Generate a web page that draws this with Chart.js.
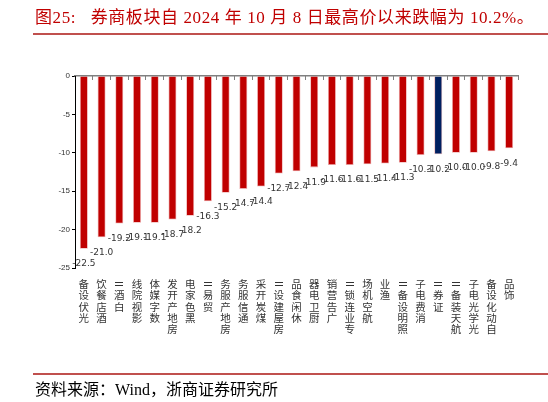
<!DOCTYPE html>
<html>
<head>
<meta charset="utf-8">
<script src="https://cdn.jsdelivr.net/npm/chart.js@4/dist/chart.umd.min.js"></script>
<style>
  body { margin: 0; background: #fff; }
  #page { position: relative; width: 548px; height: 402px; overflow: hidden; }
  #title {
    position: absolute; left: 35px; top: 3px; white-space: pre;
    font-family: "Liberation Serif", "Noto Sans CJK SC", serif;
    font-size: 17px; letter-spacing: 0.6px; color: #C00000;
  }
  .rule { position: absolute; left: 33px; right: 0; height: 1.5px; background: #C0504D; }
  #source {
    position: absolute; left: 35px; top: 376px; white-space: pre;
    font-family: "Liberation Serif", "Noto Sans CJK SC", serif;
    font-size: 16px; color: #000;
  }
  #wrap { position: absolute; left: 0; top: 0; width: 548px; height: 402px; }
</style>
</head>
<body>
<div id="page">
  <div id="wrap"><canvas id="grafico"></canvas></div>
  <div id="title">图25:   券商板块自 2024 年 10 月 8 日最高价以来跌幅为 10.2%。</div>
  <div class="rule" style="top:33px"></div>
  <div class="rule" style="top:373px"></div>
  <div id="source">资料来源：Wind，浙商证券研究所</div>
</div>
<script>
// dados
const categorias = ['光伏设备', '酒店餐饮', '白酒Ⅱ', '影视院线', '数字媒体', '房地产开发', '黑色家电',
  '贸易Ⅱ', '房地产服务', '通信服务', '煤炭开采', '房屋建设Ⅱ', '休闲食品', '厨卫电器', '广告营销',
  '专业连锁Ⅱ', '航空机场', '渔业', '照明设备Ⅱ', '消费电子', '证券Ⅱ', '航天装备Ⅱ', '光学光电子',
  '自动化设备', '饰品'];
const quedas = [-22.5, -21.0, -19.2, -19.1, -19.1, -18.7, -18.2, -16.3, -15.2, -14.7, -14.4, -12.7,
  -12.4, -11.9, -11.6, -11.6, -11.5, -11.4, -11.3, -10.3, -10.2, -10.0, -10.0, -9.8, -9.4];
const destaque = '证券Ⅱ';
const eixoY = { min: -25, max: 0, passo: 5 };

const cores = categorias.map(c => c === destaque ? '#002060' : '#C00000');

// rótulos de valor abaixo de cada barra
const rotulosValor = {
  id: 'rotulosValor',
  afterDatasetsDraw(chart) {
    const ctx = chart.ctx;
    const meta = chart.getDatasetMeta(0);
    ctx.save();
    ctx.font = '9px "DejaVu Sans"';
    ctx.fillStyle = '#333';
    ctx.textAlign = 'center';
    ctx.textBaseline = 'middle';
    meta.data.forEach((bar, i) => {
      ctx.fillText(quedas[i].toFixed(1), bar.x, bar.y + 15);
    });
    ctx.restore();
  }
};

// nomes empilhados, lidos de baixo para cima (o "Ⅱ" fica deitado)
const rotulosCategoria = {
  id: 'rotulosCategoria',
  afterDraw(chart) {
    const ctx = chart.ctx;
    const x = chart.scales.x;
    const topo = chart.chartArea.bottom + 16;
    const passo = 11.3;
    ctx.save();
    ctx.font = '10.5px "Noto Sans CJK SC"';
    ctx.fillStyle = '#333';
    ctx.textAlign = 'center';
    ctx.textBaseline = 'middle';
    categorias.forEach((nome, i) => {
      const px = x.getPixelForValue(i);
      Array.from(nome).reverse().forEach((ch, k) => {
        const py = topo + k * passo;
        if (ch === 'Ⅱ') {
          ctx.save();
          ctx.translate(px, py);
          ctx.rotate(-Math.PI / 2);
          ctx.fillText(ch, 0, 0);
          ctx.restore();
        } else {
          ctx.fillText(ch, px, py);
        }
      });
    });
    ctx.restore();
  }
};

const ctxGrafico = document.getElementById('grafico').getContext('2d');
new Chart(ctxGrafico, {
  type: 'bar',
  data: {
    labels: categorias,
    datasets: [{
      data: quedas,
      backgroundColor: cores,
      borderColor: 'rgba(235,160,160,0.9)',
      borderWidth: 0.8,
      barPercentage: 0.45,
      categoryPercentage: 1
    }]
  },
  options: {
    responsive: true,
    maintainAspectRatio: false,
    animation: false,
    layout: { padding: { top: 76, left: 0, right: 30, bottom: 134 } },
    plugins: { legend: { display: false }, tooltip: { enabled: false } },
    scales: {
      x: {
        position: 'top',
        ticks: { display: false },
        grid: { drawOnChartArea: false, tickLength: -4, color: '#808080', lineWidth: 1 },
        border: { color: '#808080', width: 1.5 },
        afterFit(s) { s.height = 0; }
      },
      y: {
        min: eixoY.min,
        max: eixoY.max,
        ticks: {
          stepSize: eixoY.passo,
          padding: 2,
          color: '#333',
          font: { family: 'Liberation Sans', size: 8 }
        },
        grid: { drawOnChartArea: false, tickLength: 3, color: '#000' },
        border: { color: '#000', width: 1 },
        afterFit(s) { s.width = 75; }
      }
    }
  },
  plugins: [rotulosValor, rotulosCategoria]
});
</script>
</body>
</html>
